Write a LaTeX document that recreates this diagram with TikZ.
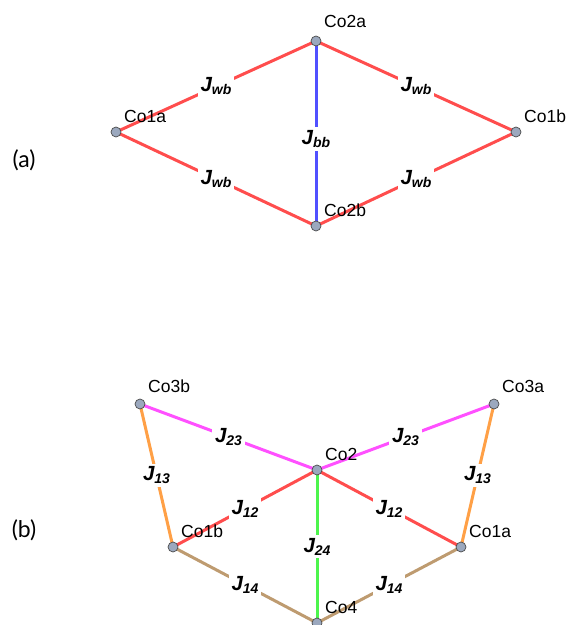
\documentclass[tikz,border=0pt]{standalone}
\usepackage{fontspec}
\setmainfont{Liberation Sans}
\newfontfamily\parenfont{Lato}
\definecolor{cred}{RGB}{255,77,77}
\definecolor{cblue}{RGB}{80,80,255}
\definecolor{cmag}{RGB}{255,80,255}
\definecolor{corange}{RGB}{255,160,70}
\definecolor{cgreen}{RGB}{77,245,77}
\definecolor{ctan}{RGB}{190,155,112}
\definecolor{cnode}{RGB}{155,168,190}
\newcommand{\Jl}[1]{{\fontsize{20.5}{24}\selectfont\bfseries\itshape J\raisebox{-3pt}{\fontsize{14}{16}\selectfont #1}}}
\tikzset{
  site/.style={circle,draw=black!70,line width=0.7pt,fill=cnode,minimum size=10pt,inner sep=0pt},
  bond/.style={line width=3pt},
  jlab/.style={fill=white,inner sep=3pt,text=black},
  nlab/.style={anchor=base west,inner sep=0pt,font=\fontsize{17.5}{20}\selectfont},
  plab/.style={font=\parenfont\fontsize{23}{26}\selectfont,inner sep=0pt}
}
\begin{document}
\begin{tikzpicture}[x=1pt,y=-1pt]
\useasboundingbox (0,0) rectangle (567,625);
% (a)
\coordinate (A1a) at (116,132);
\coordinate (A2a) at (316,41);
\coordinate (A1b) at (516,132);
\coordinate (A2b) at (316,226);
\draw[bond,cred] (A1a) -- node[jlab]{\Jl{wb}} (A2a);
\draw[bond,cred] (A2a) -- node[jlab]{\Jl{wb}} (A1b);
\draw[bond,cred] (A1a) -- node[jlab]{\Jl{wb}} (A2b);
\draw[bond,cred] (A2b) -- node[jlab]{\Jl{wb}} (A1b);
\draw[bond,cblue] (A2a) -- node[jlab,pos=0.53]{\Jl{bb}} (A2b);
\node[site] (nA1a) at (A1a) {};
\node[site] (nA2a) at (A2a) {};
\node[site] (nA1b) at (A1b) {};
\node[site] (nA2b) at (A2b) {};
\node[nlab] (lA2a) at ([shift={(8,-14)}]A2a) {Co2a};
\node[nlab] (lA1a) at ([shift={(8,-10)}]A1a) {Co1a};
\node[nlab] (lA1b) at ([shift={(8,-10)}]A1b) {Co1b};
\node[nlab] (lA2b) at ([shift={(8,-10)}]A2b) {Co2b};
\node[plab] (pa) at (24,160) {(a)};
% (b)
\coordinate (B3b) at (140,404);
\coordinate (B3a) at (494,404);
\coordinate (B2) at (317,470);
\coordinate (B1b) at (173,547);
\coordinate (B1a) at (461,547);
\coordinate (B4) at (317,623);
\draw[bond,cmag] (B3b) -- node[jlab]{\Jl{23}} (B2);
\draw[bond,cmag] (B2) -- node[jlab]{\Jl{23}} (B3a);
\draw[bond,corange] (B3b) -- node[jlab]{\Jl{13}} (B1b);
\draw[bond,corange] (B3a) -- node[jlab]{\Jl{13}} (B1a);
\draw[bond,cred] (B1b) -- node[jlab]{\Jl{12}} (B2);
\draw[bond,cred] (B2) -- node[jlab]{\Jl{12}} (B1a);
\draw[bond,cgreen] (B2) -- node[jlab]{\Jl{24}} (B4);
\draw[bond,ctan] (B1b) -- node[jlab]{\Jl{14}} (B4);
\draw[bond,ctan] (B4) -- node[jlab]{\Jl{14}} (B1a);
\node[site] (nB3b) at (B3b) {};
\node[site] (nB3a) at (B3a) {};
\node[site] (nB2) at (B2) {};
\node[site] (nB1b) at (B1b) {};
\node[site] (nB1a) at (B1a) {};
\node[site] (nB4) at (B4) {};
\node[nlab] (lB3b) at ([shift={(8,-12)}]B3b) {Co3b};
\node[nlab] (lB3a) at ([shift={(8,-12)}]B3a) {Co3a};
\node[nlab] (lB2) at ([shift={(8,-10)}]B2) {Co2};
\node[nlab] (lB1b) at ([shift={(8,-10)}]B1b) {Co1b};
\node[nlab] (lB1a) at ([shift={(8,-10)}]B1a) {Co1a};
\node[nlab] (lB4) at ([shift={(8,-10)}]B4) {Co4};
\node[plab] (pb) at (24,530) {(b)};
\end{tikzpicture}
\end{document}
